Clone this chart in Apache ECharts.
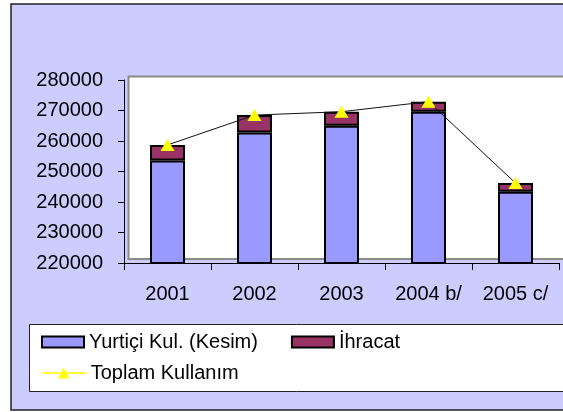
<!DOCTYPE html>
<html>
<head>
<meta charset="utf-8">
<script src="https://cdn.jsdelivr.net/npm/echarts@6/dist/echarts.min.js"></script>
<style>
html,body{margin:0;padding:0;background:#fff;}
#c{width:563px;height:412px;}
</style>
</head>
<body>
<div id="c"></div>
<script>
const categories = ['2001', '2002', '2003', '2004 b/', '2005 c/'];
const yurtici = [253600, 262800, 265000, 269600, 243400];
const ihracat = [5100, 5700, 4600, 3300, 2800];
const toplam = [258700, 268500, 269600, 272900, 246200];
const yTicks = { min: 220000, max: 280000, interval: 10000 };

const chart = echarts.init(document.getElementById('c'), null, {renderer: 'canvas'});
const font = 'Liberation Sans, Arial, sans-serif';
chart.setOption({
  animation: false,
  backgroundColor: '#ffffff',
  graphic: [
    {type: 'rect', z: -10, shape: {x: 11, y: 4, width: 600, height: 406},
     style: {fill: '#CCCCFF', stroke: '#222', lineWidth: 1.5}},
    {type: 'rect', z: -9, shape: {x: 128.5, y: 76.5, width: 480, height: 182.5},
     style: {fill: '#ffffff', stroke: '#8a8a8a', lineWidth: 2}},
    {type: 'rect', z: -9, shape: {x: 29.5, y: 324.5, width: 580, height: 67},
     style: {fill: '#ffffff', stroke: '#222', lineWidth: 1}}
  ],
  grid: {left: 124, top: 80, right: 4, bottom: 149, containLabel: false},
  legend: [
    {left: 41, top: 332, padding: 0, itemWidth: 42, itemHeight: 11, itemGap: 33, icon: 'rect',
     textStyle: {fontFamily: font, fontSize: 20, color: '#000'},
     data: ['Yurtiçi Kul. (Kesim)', 'İhracat']},
    {left: 41, top: 363, padding: 0, itemWidth: 44, itemHeight: 14, itemGap: 10,
     textStyle: {fontFamily: font, fontSize: 20, color: '#000'},
     data: [{name: 'Toplam Kullanım',
             itemStyle: {color: '#FFFF00'}, lineStyle: {color: '#FFFF00', width: 1.5}}]}
  ],
  xAxis: {
    type: 'category', data: categories, boundaryGap: true,
    axisLine: {lineStyle: {color: '#000', width: 1}},
    axisTick: {show: true, length: 7, lineStyle: {color: '#000'}},
    axisLabel: {margin: 21, fontFamily: font, fontSize: 20, color: '#000'},
    splitLine: {show: false}
  },
  yAxis: {
    type: 'value', min: yTicks.min, max: yTicks.max, interval: yTicks.interval,
    axisLine: {show: true, lineStyle: {color: '#000', width: 1}},
    axisTick: {show: true, length: 6, lineStyle: {color: '#000'}},
    axisLabel: {margin: 21, fontFamily: font, fontSize: 20, color: '#000',
                formatter: function (v) { return String(v); }},
    splitLine: {show: false}
  },
  series: [
    {name: 'Yurtiçi Kul. (Kesim)', type: 'bar', stack: 's', barWidth: 35, data: yurtici,
     itemStyle: {color: '#9999FF', borderColor: '#000', borderWidth: 2}},
    {name: 'İhracat', type: 'bar', stack: 's', barWidth: 35, data: ihracat,
     itemStyle: {color: '#993366', borderColor: '#000', borderWidth: 2}},
    {name: 'Toplam Kullanım', type: 'line', data: toplam, z: 5,
     symbol: 'triangle', symbolSize: [14, 12],
     itemStyle: {color: '#FFFF00'},
     lineStyle: {color: '#111', width: 1}}
  ]
});
</script>
</body>
</html>
